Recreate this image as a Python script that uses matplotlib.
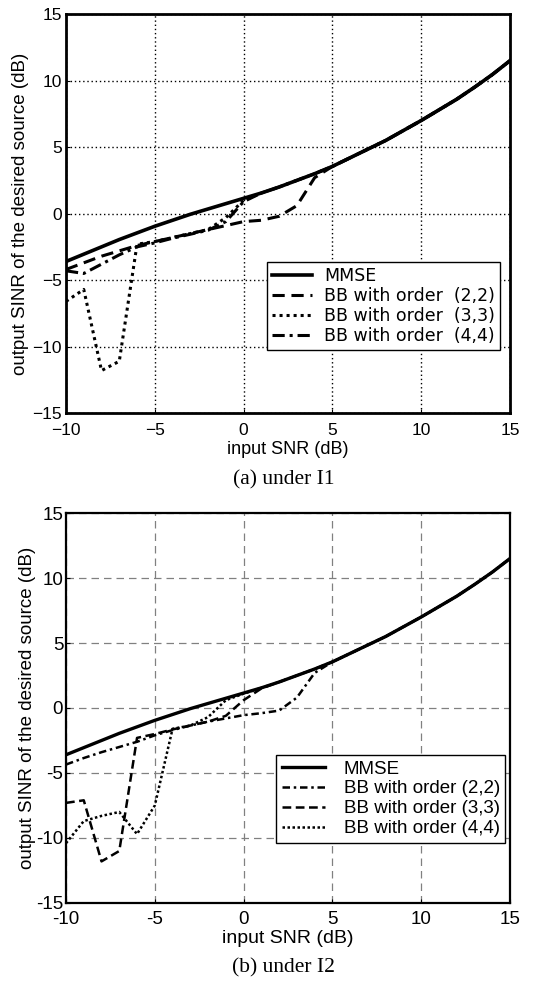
import matplotlib
matplotlib.use("Agg")
import matplotlib.pyplot as plt
import numpy as np

# input SNR (dB)
snr = list(range(-10, 16))

# output SINR, panel (a) under I1
mmse_a = [-3.6, -3.05, -2.5, -1.95, -1.45, -0.95, -0.5, -0.05, 0.35, 0.75, 1.15, 1.55, 2.0,
          2.5, 3.0, 3.55, 4.2, 4.85, 5.5, 6.25, 7.0, 7.8, 8.6, 9.5, 10.45, 11.5]
bb22_a = [-4.2, -3.7, -3.2, -2.8, -2.4, -2.1, -1.8, -1.5, -1.2, -0.9, -0.6, -0.5, -0.2,
          0.6, 2.7, 3.55, 4.2, 4.85, 5.5, 6.25, 7.0, 7.8, 8.6, 9.5, 10.45, 11.5]
bb33_a = [-6.6, -5.7, -11.8, -11.1, -2.3, -2.1, -1.8, -1.5, -1.2, -0.3, 1.0, 1.55, 2.0,
          2.5, 3.0, 3.55, 4.2, 4.85, 5.5, 6.25, 7.0, 7.8, 8.6, 9.5, 10.45, 11.5]
bb44_a = [-4.3, -4.5, -3.8, -3.1, -2.5, -2.2, -1.85, -1.55, -1.25, -0.6, 0.9, 1.55, 2.0,
          2.5, 3.0, 3.55, 4.2, 4.85, 5.5, 6.25, 7.0, 7.8, 8.6, 9.5, 10.45, 11.5]

# output SINR, panel (b) under I2
mmse_b = [-3.6, -3.05, -2.5, -1.95, -1.45, -0.95, -0.5, -0.05, 0.35, 0.75, 1.15, 1.55, 2.0,
          2.5, 3.0, 3.55, 4.2, 4.85, 5.5, 6.25, 7.0, 7.8, 8.6, 9.5, 10.45, 11.5]
bb22_b = [-4.35, -3.85, -3.4, -3.0, -2.6, -2.1, -1.7, -1.35, -1.05, -0.8, -0.55, -0.4, -0.2,
          0.8, 2.7, 3.55, 4.2, 4.85, 5.5, 6.25, 7.0, 7.8, 8.6, 9.5, 10.45, 11.5]
bb33_b = [-7.3, -7.1, -11.8, -11.0, -2.3, -2.0, -1.65, -1.35, -1.05, -0.6, 0.6, 1.5, 2.0,
          2.5, 3.0, 3.55, 4.2, 4.85, 5.5, 6.25, 7.0, 7.8, 8.6, 9.5, 10.45, 11.5]
bb44_b = [-10.4, -8.7, -8.3, -8.0, -9.7, -7.5, -1.6, -1.35, -0.7, 0.6, 1.1, 1.55, 2.0,
          2.5, 3.0, 3.55, 4.2, 4.85, 5.5, 6.25, 7.0, 7.8, 8.6, 9.5, 10.45, 11.5]

ticks_x = [-10, -5, 0, 5, 10, 15]
ticks_y = [-15, -10, -5, 0, 5, 10, 15]

plt.rcParams['font.family'] = ['Liberation Sans', 'DejaVu Sans']

fig = plt.figure(figsize=(5.56, 9.86), dpi=100)
ax1 = fig.add_axes([0.1187, 0.581, 0.7986, 0.4047])
ax2 = fig.add_axes([0.1187, 0.0842, 0.7986, 0.3955])

# panel (a)
ax1.plot(snr, mmse_a, color='black', lw=2.6, ls='-', label='MMSE')
ax1.plot(snr, bb22_a, color='black', lw=2.2, ls=(0, (4, 2.2)), label='BB with order  (2,2)')
ax1.plot(snr, bb33_a, color='black', lw=2.2, ls=(0, (1, 1.3)), label='BB with order  (3,3)')
ax1.plot(snr, bb44_a, color='black', lw=2.2, ls=(0, (4, 1.6, 1, 1.6)), label='BB with order  (4,4)')
ax1.grid(True, color='black', ls=(0, (1, 2)), lw=1.0)
for sp in ax1.spines.values():
    sp.set_linewidth(2.0)
leg1 = ax1.legend(loc='upper left', bbox_to_anchor=(0.452, 0.38),
                  prop={'family': 'DejaVu Sans', 'size': 12.5},
                  frameon=True, fancybox=False, edgecolor='black', framealpha=1,
                  handlelength=2.3, handletextpad=0.7, labelspacing=0.12, borderpad=0.3,
                  borderaxespad=0)
leg1.get_frame().set_linewidth(1.0)
ax1.set_xlabel('input SNR (dB)', fontsize=13, labelpad=2)
ax1.set_ylabel('output SINR of the desired source (dB)', fontsize=13.5, labelpad=2)
ax1.tick_params(axis='x', pad=7)

# panel (b)
ax2.plot(snr, mmse_b, color='black', lw=2.4, ls='-', label='MMSE')
ax2.plot(snr, bb22_b, color='black', lw=1.8, ls=(0, (3, 1.5, 1, 1.5)), label='BB with order (2,2)')
ax2.plot(snr, bb33_b, color='black', lw=1.8, ls=(0, (3.5, 1.8)), label='BB with order (3,3)')
ax2.plot(snr, bb44_b, color='black', lw=1.8, ls=(0, (1, 1)), label='BB with order (4,4)')
ax2.grid(True, color='#808080', ls=(0, (6, 4)), lw=0.9)
for sp in ax2.spines.values():
    sp.set_linewidth(1.6)
leg2 = ax2.legend(loc='upper left', bbox_to_anchor=(0.473, 0.38),
                  prop={'family': 'Liberation Sans', 'size': 13.5},
                  frameon=True, fancybox=False, edgecolor='black', framealpha=1,
                  handlelength=2.3, handletextpad=1.0, labelspacing=0.15, borderpad=0.3,
                  borderaxespad=0)
leg2.get_frame().set_linewidth(1.0)
ax2.set_xlabel('input SNR (dB)', fontsize=14, labelpad=1)
ax2.set_ylabel('output SINR of the desired source (dB)', fontsize=13.5, labelpad=0)

for ax in (ax1, ax2):
    ax.set_xlim(-10, 15)
    ax.set_ylim(-15, 15)
    ax.set_xticks(ticks_x)
    ax.set_yticks(ticks_y)
    ax.tick_params(direction='in', length=3, color='black')

ax1.tick_params(labelsize=12.5)
ax1.tick_params(axis='y', pad=3)
ax2.tick_params(labelsize=13.5)
ax2.tick_params(axis='x', pad=6)
ax2.tick_params(axis='y', pad=2)

# top uses real minus signs, bottom plain hyphens
ax1.set_xticklabels([str(t).replace('-', '\u2212') for t in ticks_x])
ax1.set_yticklabels([str(t).replace('-', '\u2212') for t in ticks_y])
ax2.set_xticklabels([str(t) for t in ticks_x])
ax2.set_yticklabels([str(t) for t in ticks_y])

fig.text(0.51, 0.513, '(a) under I1', ha='center', va='center', fontsize=15.5,
         family='Liberation Serif')
fig.text(0.51, 0.018, '(b) under I2', ha='center', va='center', fontsize=15.5,
         family='Liberation Serif')

fig.savefig('out.png', dpi=100)
